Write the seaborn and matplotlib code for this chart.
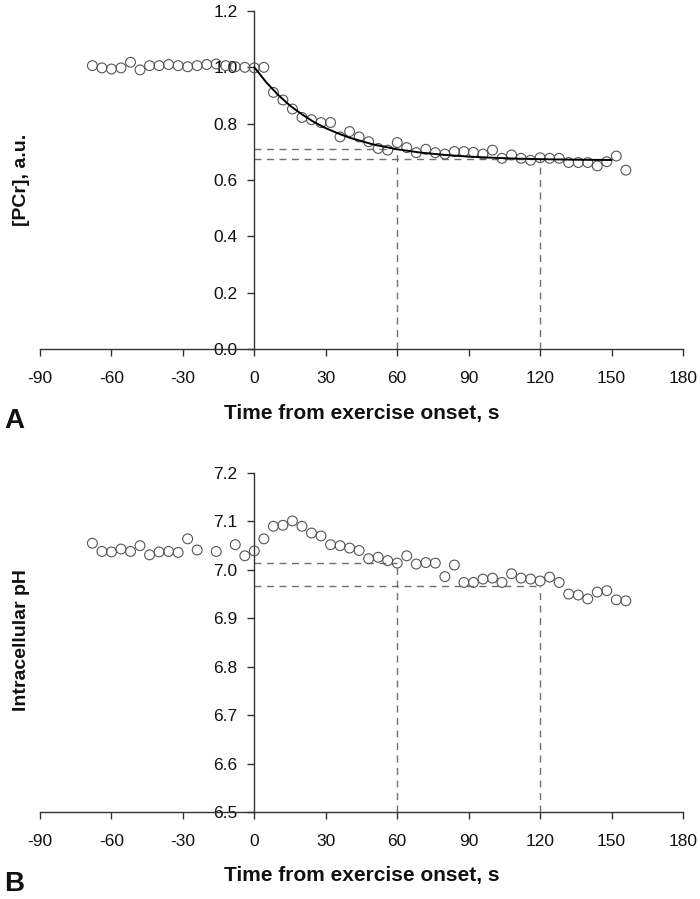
import matplotlib
matplotlib.use("Agg")
import matplotlib.pyplot as plt
import seaborn as sns
import pandas as pd

# time axis (s), one scan every 4 s
pcr_time = [-68, -64, -60, -56, -52, -48, -44, -40, -36, -32, -28, -24, -20, -16, -12, -8, -4, 0, 4,
            8, 12, 16, 20, 24, 28, 32, 36, 40, 44, 48, 52, 56, 60, 64, 68, 72, 76,
            80, 84, 88, 92, 96, 100, 104, 108, 112, 116, 120, 124, 128, 132, 136, 140, 144, 148, 152, 156]
pcr_value = [1.006, 0.998, 0.994, 0.998, 1.018, 0.991, 1.006, 1.006, 1.010, 1.006, 1.002, 1.006, 1.010,
             1.012, 1.006, 1.002, 1.000, 0.998, 1.000,
             0.911, 0.884, 0.852, 0.822, 0.814, 0.804, 0.804, 0.753, 0.772, 0.753, 0.736, 0.712, 0.706,
             0.733, 0.715, 0.697, 0.709, 0.697,
             0.692, 0.701, 0.701, 0.698, 0.692, 0.706, 0.677, 0.689, 0.677, 0.670, 0.679, 0.677, 0.677,
             0.662, 0.662, 0.662, 0.650, 0.665, 0.685, 0.635]

# mono-exponential fit
fit_time = [0, 5, 10, 15, 20, 25, 30, 35, 40, 50, 60, 70, 80, 90, 100, 110, 120, 135, 150]
fit_value = [1.000, 0.947, 0.902, 0.864, 0.833, 0.806, 0.784, 0.766, 0.750, 0.726, 0.709, 0.697,
             0.689, 0.683, 0.679, 0.676, 0.674, 0.672, 0.671]

ph_time = [-68, -64, -60, -56, -52, -48, -44, -40, -36, -32, -28, -24, -16, -8, -4, 0, 4,
           8, 12, 16, 20, 24, 28, 32, 36, 40, 44, 48, 52, 56, 60, 64, 68, 72, 76,
           80, 84, 88, 92, 96, 100, 104, 108, 112, 116, 120, 124, 128, 132, 136, 140, 144, 148, 152, 156]
ph_value = [7.055, 7.038, 7.037, 7.043, 7.038, 7.050, 7.031, 7.037, 7.038, 7.036, 7.064, 7.041, 7.038,
            7.052, 7.029, 7.039, 7.064,
            7.090, 7.092, 7.101, 7.090, 7.076, 7.070, 7.052, 7.050, 7.045, 7.040, 7.023, 7.026, 7.019,
            7.014, 7.029, 7.012, 7.015, 7.014,
            6.986, 7.010, 6.974, 6.974, 6.981, 6.983, 6.974, 6.992, 6.983, 6.981, 6.977, 6.985, 6.974,
            6.950, 6.948, 6.940, 6.954, 6.957, 6.938, 6.936]

# dashed guide lines at 60 s and 120 s
ref_time = [60, 120]
pcr_ref = [0.709, 0.674]
ph_ref = [7.015, 6.967]

x_ticks = [-90, -60, -30, 0, 30, 60, 90, 120, 150, 180]
pcr_ticks = [0.0, 0.2, 0.4, 0.6, 0.8, 1.0, 1.2]
ph_ticks = [6.5, 6.6, 6.7, 6.8, 6.9, 7.0, 7.1, 7.2]

sns.set_theme(style="ticks")
plt.rcParams['font.family'] = ['Liberation Sans', 'DejaVu Sans']
plt.rcParams['axes.unicode_minus'] = False

W, H = 700, 899
fig = plt.figure(figsize=(W / 100, H / 100), dpi=100)
ax_a = fig.add_axes([40 / W, 1 - 349 / H, 643 / W, 338 / H])
ax_b = fig.add_axes([40 / W, 1 - 812 / H, 643 / W, 339 / H])

point_color = '#555555'
dash_color = '#707070'
axis_color = '#333333'


def style_axis(ax, yticks, ylabel, label_y, axis_y, letter):
    ax.set_xlim(-90, 180)
    ax.set_ylim(yticks[0], yticks[-1])
    ax.set_xticks(x_ticks)
    ax.set_yticks(yticks)
    ax.set_yticklabels(['{:.1f}'.format(v) for v in yticks])
    for side in ['top', 'right']:
        ax.spines[side].set_visible(False)
    ax.spines['left'].set_position(('data', 0))
    for side in ['left', 'bottom']:
        ax.spines[side].set_color(axis_color)
        ax.spines[side].set_linewidth(1.0)
    ax.tick_params(axis='both', direction='out', length=5, width=1.0, color=axis_color,
                   labelsize=12.5, labelcolor='#111111')
    ax.tick_params(axis='x', pad=11)
    ax.tick_params(axis='y', pad=7)
    ax.set_xlabel('')
    ax.set_ylabel('')
    ax.set_zorder(1)
    fig.text(361.5 / W, 1 - (axis_y + 64) / H, 'Time from exercise onset, s',
             fontsize=15, fontweight='bold', ha='center', va='center', color='#111111')
    fig.text(22 / W, 1 - label_y / H, ylabel, rotation=90, fontsize=14, fontweight='bold',
             ha='center', va='center', color='#111111')
    fig.text(4 / W, 1 - (axis_y + 72) / H, letter, fontsize=20, fontweight='bold',
             ha='left', va='center', color='#111111')


# panel A: PCr
df_pcr = pd.DataFrame({'t': pcr_time, 'v': pcr_value})
for t, v in zip(ref_time, pcr_ref):
    ax_a.hlines(v, 0, t, colors=dash_color, linestyles=(0, (5, 4)), linewidth=1.0, zorder=1)
    ax_a.vlines(t, 0, v, colors=dash_color, linestyles=(0, (5, 4)), linewidth=1.0, zorder=1)
sns.scatterplot(data=df_pcr, x='t', y='v', ax=ax_a, marker='o', s=50,
                facecolor='none', edgecolor=point_color, linewidth=0.8, zorder=3)
sns.lineplot(x=fit_time, y=fit_value, ax=ax_a, color='black', linewidth=1.4, zorder=4)
style_axis(ax_a, pcr_ticks, '[PCr], a.u.', 180, 349, 'A')

# panel B: pH
df_ph = pd.DataFrame({'t': ph_time, 'v': ph_value})
for t, v in zip(ref_time, ph_ref):
    ax_b.hlines(v, 0, t, colors=dash_color, linestyles=(0, (5, 4)), linewidth=1.0, zorder=1)
    ax_b.vlines(t, 6.5, v, colors=dash_color, linestyles=(0, (5, 4)), linewidth=1.0, zorder=1)
sns.scatterplot(data=df_ph, x='t', y='v', ax=ax_b, marker='o', s=50,
                facecolor='none', edgecolor=point_color, linewidth=0.8, zorder=3)
style_axis(ax_b, ph_ticks, 'Intracellular pH', 640, 812, 'B')

fig.savefig('out.png', dpi=100)
